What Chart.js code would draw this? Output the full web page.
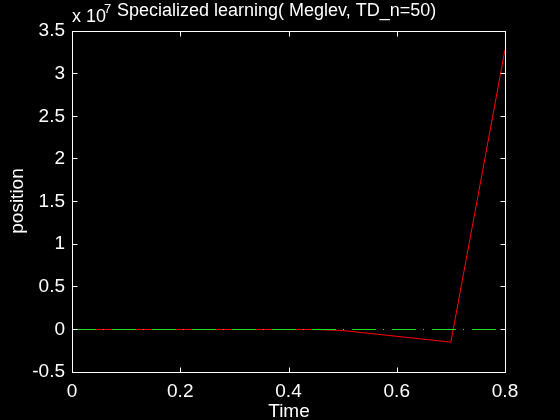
<!DOCTYPE html>
<html>
<head>
<meta charset="utf-8">
<script src="https://cdn.jsdelivr.net/npm/chart.js@4/dist/chart.umd.min.js"></script>
<style>
    html, body { margin: 0; padding: 0; background: #000; }
    #wrap { width: 560px; height: 420px; }
</style>
</head>
<body>
<div id="wrap"><canvas id="chart" width="560" height="420"></canvas></div>
<script>
// values in units of 1e7 (as shown on the axis)
var timeValues = [0, 0.45, 0.5, 0.7, 0.8];
var positionValues = [0, 0, -0.012, -0.148, 3.28];
var refTime = [0, 0.8];
var refValues = [0, 0];
var xTicks = [0, 0.2, 0.4, 0.6, 0.8];
var yTicks = [-0.5, 0, 0.5, 1, 1.5, 2, 2.5, 3, 3.5];

(function() {
    var FONT = '"Liberation Sans", Arial, sans-serif';

    function pairs(xs, ys) {
        return xs.map(function(x, i) { return { x: x, y: ys[i] }; });
    }

    var frame = {
        id: 'frame',
        beforeDraw: function(chart) {
            var ctx = chart.ctx;
            ctx.save();
            ctx.fillStyle = '#000';
            ctx.fillRect(0, 0, chart.width, chart.height);
            ctx.restore();
        },
        afterDraw: function(chart) {
            var ctx = chart.ctx;
            var xs = chart.scales.x, ys = chart.scales.y;
            var L = 72.5, R = 505.5, T = 31.5, B = 372.5;
            ctx.save();
            ctx.strokeStyle = '#fff';
            ctx.lineWidth = 1;
            ctx.strokeRect(L, T, R - L, B - T);
            ctx.beginPath();
            xTicks.forEach(function(v) {
                var px = Math.round(xs.getPixelForValue(v)) + 0.5;
                if (px > R) px = R;
                ctx.moveTo(px, B); ctx.lineTo(px, B - 5);
                ctx.moveTo(px, T); ctx.lineTo(px, T + 5);
            });
            yTicks.forEach(function(v) {
                var py = Math.floor(ys.getPixelForValue(v)) + 0.5;
                if (py > B) py = B;
                ctx.moveTo(L, py); ctx.lineTo(L + 5, py);
                ctx.moveTo(R, py); ctx.lineTo(R - 5, py);
            });
            ctx.stroke();

            ctx.fillStyle = '#fff';
            ctx.textBaseline = 'alphabetic';
            ctx.font = '18px ' + FONT;
            ctx.textAlign = 'left';
            ctx.fillText('Specialized learning( Meglev, TD_n=50)', 117, 16);
            ctx.fillText('x 10', 72, 21.5);
            ctx.font = '13px ' + FONT;
            ctx.fillText('7', 104, 13);

            ctx.font = '19px ' + FONT;
            ctx.textAlign = 'center';
            ctx.fillText('Time', 289, 417);

            ctx.translate(23, 201);
            ctx.rotate(-Math.PI / 2);
            ctx.fillText('position', 0, 0);
            ctx.restore();
        }
    };

    new Chart(document.getElementById('chart'), {
        type: 'line',
        data: {
            datasets: [
                {
                    label: 'reference',
                    data: pairs(refTime, refValues),
                    borderColor: 'rgb(32,224,32)',
                    borderWidth: 1,
                    borderDash: [24, 7, 1, 8],
                    pointRadius: 0,
                    order: 0
                },
                {
                    label: 'position',
                    data: pairs(timeValues, positionValues),
                    borderColor: '#ff0000',
                    borderWidth: 1,
                    pointRadius: 0,
                    tension: 0,
                    order: 1
                }
            ]
        },
        options: {
            responsive: false,
            animation: false,
            layout: { padding: { left: 0, top: 31, right: 55, bottom: 0 } },
            plugins: {
                legend: { display: false },
                tooltip: { enabled: false },
                title: { display: false }
            },
            scales: {
                x: {
                    type: 'linear',
                    min: 0,
                    max: 0.8,
                    afterBuildTicks: function(s) { s.ticks = xTicks.map(function(v) { return { value: v }; }); },
                    afterFit: function(s) { s.height = 47.857; },
                    grid: { display: false, drawTicks: false },
                    border: { display: false },
                    ticks: {
                        color: '#fff',
                        padding: 8,
                        maxRotation: 0,
                        font: { family: FONT, size: 19 },
                        callback: function(v) { return String(Number(v.toFixed(1))); }
                    }
                },
                y: {
                    type: 'linear',
                    min: -0.5,
                    max: 3.5,
                    afterBuildTicks: function(s) { s.ticks = yTicks.map(function(v) { return { value: v }; }); },
                    afterFit: function(s) { s.width = 72; },
                    grid: { display: false, drawTicks: false },
                    border: { display: false },
                    ticks: {
                        color: '#fff',
                        padding: 7,
                        font: { family: FONT, size: 19 },
                        callback: function(v) { return String(Number(v.toFixed(1))); }
                    }
                }
            }
        },
        plugins: [frame]
    });
})();
</script>
</body>
</html>
